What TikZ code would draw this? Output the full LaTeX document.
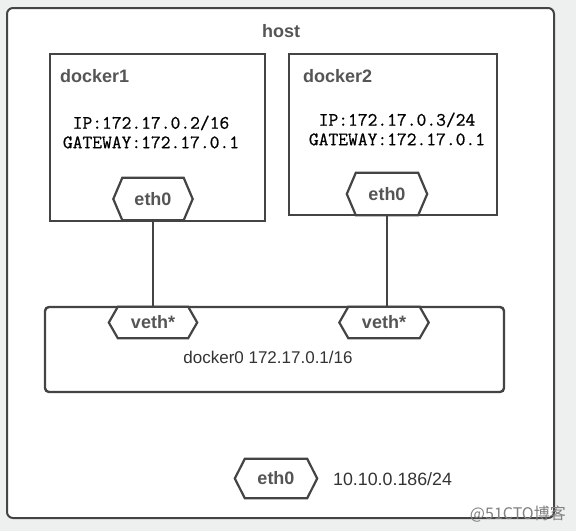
\documentclass[tikz,border=0pt]{standalone}
\usepackage{fontspec}
\setmainfont{Liberation Sans}
\newfontfamily\cjk{Noto Sans CJK SC}
\newfontfamily\ipfont[FakeBold=0.7]{Latin Modern Mono}
\definecolor{bgc}{HTML}{EEF0F0}
\definecolor{linec}{HTML}{444444}
\definecolor{labc}{HTML}{555555}
\definecolor{txtc}{HTML}{333333}
\newcommand\hexpath[2]{%
  \draw[hexline] (#1.west) -- ([xshift=#2]#1.north west) -- ([xshift=-#2]#1.north east) -- (#1.east)
    -- ([xshift=-#2]#1.south east) -- ([xshift=#2]#1.south west) -- cycle;}
\tikzset{
  hexline/.style={draw=linec, line width=2.2pt, line join=miter, fill=white},
  boxline/.style={draw=linec, line width=2.4pt},
  lab/.style={font=\fontsize{18}{20}\selectfont\bfseries, text=labc, inner sep=0pt, anchor=base west},
  hexnode/.style={inner sep=0pt, font=\fontsize{18}{20}\selectfont\bfseries, text=labc},
  iptext/.style={font=\fontsize{19}{19.5}\selectfont\ipfont, text=black, align=center, inner sep=0pt},
  plain/.style={font=\fontsize{17}{20}\selectfont, text=txtc, inner sep=0pt}
}
\begin{document}
\begin{tikzpicture}[x=1pt,y=-1pt]
\useasboundingbox (0,0) rectangle (576,531);
\fill[bgc] (0,0) rectangle (576,531);
% host
\draw[boxline, line width=2pt, fill=white, rounded corners=6pt] (7,8) rectangle (554,518);
\node[lab] (host) at (262,37) {host};
% docker1
\draw[boxline] (50,54) rectangle (265,221);
\node[lab] (d1lab) at (60,82) {docker1};
\node[iptext] (d1ip) at (151,132) {IP:172.17.0.2/16\\GATEWAY:172.17.0.1};
% docker2
\draw[boxline] (289,54) rectangle (497,215);
\node[lab] (d2lab) at (303,82) {docker2};
\node[iptext] (d2ip) at (397,129) {IP:172.17.0.3/24\\GATEWAY:172.17.0.1};
% docker0 bridge
\draw[boxline, rounded corners=4pt] (45,307) rectangle (504,392);
\node[plain] (br) at (268,357) {docker0 172.17.0.1/16};
% interfaces
\node[hexnode, minimum width=79pt, minimum height=42pt] (e1) at (153,199) {};
\node[hexnode, minimum width=80pt, minimum height=42pt] (e2) at (387,194) {};
\node[hexnode, minimum width=88pt, minimum height=31pt] (v1) at (153,322.5) {};
\node[hexnode, minimum width=89pt, minimum height=31pt] (v2) at (384,322.5) {};
\node[hexnode, minimum width=82pt, minimum height=39pt] (e0) at (276,478.5) {};
% connectors
\draw[boxline, line width=2pt] (e1.south) -- (e1.south |- v1.north);
\draw[boxline, line width=2pt] (e2.south) -- (e2.south |- v2.north);
\hexpath{e1}{9pt}
\hexpath{e2}{9pt}
\hexpath{v1}{9pt}
\hexpath{v2}{9pt}
\hexpath{e0}{10pt}
\node[hexnode] at (e1) {eth0};
\node[hexnode] at (e2) {eth0};
\node[hexnode] at (v1) {veth*};
\node[hexnode] at (v2) {veth*};
\node[hexnode] at (e0) {eth0};
\node[plain, anchor=west, font=\fontsize{17.8}{20}\selectfont] (ip0) at (333,479) {10.10.0.186/24};
% watermark
\node[inner sep=0pt, anchor=east, text=gray, font=\fontsize{16}{18}\selectfont\cjk] (wm) at (566,514) {@51CTO博客};
\end{tikzpicture}
\end{document}
